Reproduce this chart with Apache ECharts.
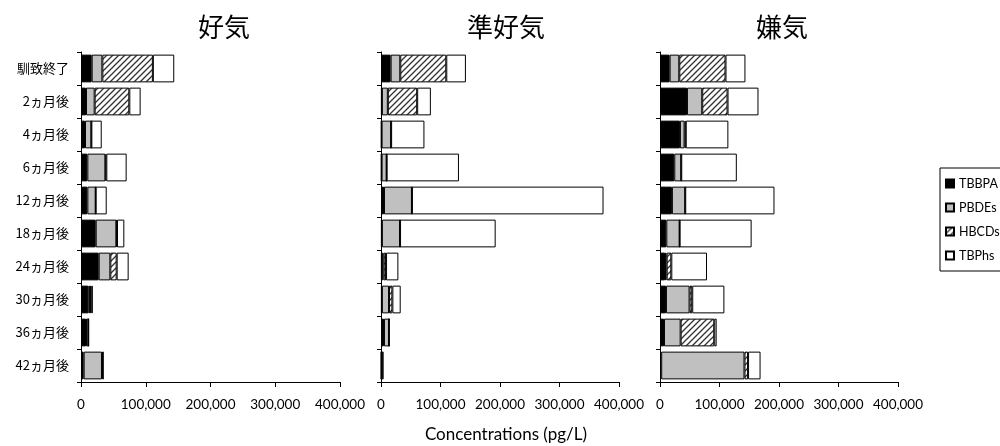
<!DOCTYPE html>
<html><head><meta charset="utf-8">
<script src="https://cdn.jsdelivr.net/npm/echarts@6/dist/echarts.min.js"></script>
<style>html,body{margin:0;padding:0;background:#fff}#c{width:1000px;height:446px}</style>
</head><body><div id="c"></div>
<script>
const categories = ['馴致終了','2ヵ月後','4ヵ月後','6ヵ月後','12ヵ月後','18ヵ月後','24ヵ月後','30ヵ月後','36ヵ月後','42ヵ月後'];
const panelTitles = ['好気','準好気','嫌気'];
const seriesNames = ['TBBPA','PBDEs','HBCDs','TBPhs'];
const xTicks = [0,100000,200000,300000,400000];

// 好気
const aerobic_TBBPA = [16500, 7700, 6200, 9800, 9800, 22700, 27300, 11300, 7700, 4100];
const aerobic_PBDEs = [16500, 13400, 9800, 27800, 12900, 31900, 18000, 2500, 3600, 28300];
const aerobic_HBCDs = [78000, 53500, 0, 1500, 0, 1000, 9800, 2000, 0, 1500];
const aerobic_TBPhs = [33000, 17500, 16000, 31400, 17000, 11300, 18500, 2500, 1000, 500];
// 準好気
const semi_TBBPA = [16200, 1500, 1000, 1000, 5000, 1500, 1500, 1500, 5000, 500];
const semi_PBDEs = [16200, 10000, 16000, 8500, 47000, 30500, 3000, 12000, 8400, 1000];
const semi_HBCDs = [77300, 49300, 0, 0, 0, 0, 4000, 5600, 0, 0];
const semi_TBPhs = [33000, 23000, 56000, 121500, 322000, 160700, 20700, 14000, 500, 3000];
// 嫌気
const anaerobic_TBBPA = [16200, 45300, 33500, 24000, 20000, 10600, 8400, 10000, 6700, 2000];
const anaerobic_PBDEs = [16200, 25700, 7800, 11700, 22400, 22400, 2800, 39700, 28000, 140000];
const anaerobic_HBCDs = [77700, 42500, 2000, 0, 0, 0, 7800, 4500, 56500, 6000];
const anaerobic_TBPhs = [33500, 52000, 71600, 93400, 150000, 121000, 60000, 54000, 4000, 21000];

const panels = [
  [aerobic_TBBPA, aerobic_PBDEs, aerobic_HBCDs, aerobic_TBPhs],
  [semi_TBBPA, semi_PBDEs, semi_HBCDs, semi_TBPhs],
  [anaerobic_TBBPA, anaerobic_PBDEs, anaerobic_HBCDs, anaerobic_TBPhs]
];

// hatch pattern
const pc = document.createElement('canvas');
pc.width = 6; pc.height = 6;
const g = pc.getContext('2d');
g.fillStyle = '#fff'; g.fillRect(0,0,6,6);
g.strokeStyle = '#333'; g.lineWidth = 1.3;
g.beginPath();
g.moveTo(0,6); g.lineTo(6,0);
g.moveTo(-3,3); g.lineTo(3,-3);
g.moveTo(3,9); g.lineTo(9,3);
g.stroke();
const hatch = {image: pc, repeat: 'repeat'};
const fills = ['#000000', '#c0c0c0', hatch, '#ffffff'];

const grids = [
  {left: 81, width: 259, top: 52, height: 330},
  {left: 381, width: 238, top: 52, height: 330},
  {left: 660, width: 238, top: 52, height: 330}
];
const titleCenters = [219, 501, 777];
const latin = 'Lato, "Open Sans", sans-serif';
const jp = '"Noto Sans CJK JP", sans-serif';

const xAxes = grids.map((gr, i) => ({
  type: 'value', gridIndex: i, min: 0, max: 400000, interval: 100000,
  axisLine: {show: true, lineStyle: {color: '#000'}},
  axisTick: {show: true, length: 5, lineStyle: {color: '#000'}},
  splitLine: {show: false},
  axisLabel: {color: '#000', fontSize: 13.5, fontFamily: latin, margin: 16,
    formatter: v => v.toLocaleString('en-US')}
}));
const yAxes = grids.map((gr, i) => ({
  type: 'category', gridIndex: i, data: categories, inverse: true,
  axisLine: {show: true, lineStyle: {color: '#000'}},
  axisTick: {show: true, length: 4, lineStyle: {color: '#000'}},
  axisLabel: {show: i === 0, color: '#000', fontSize: 13, fontFamily: jp, margin: 12}
}));

const series = [];
panels.forEach((arrs, p) => {
  arrs.forEach((data, k) => {
    series.push({
      name: seriesNames[k], type: 'bar', stack: 'p' + p,
      xAxisIndex: p, yAxisIndex: p, data: data,
      barCategoryGap: '16%',
      itemStyle: {color: fills[k], borderColor: '#000', borderWidth: 1},
      emphasis: {disabled: true}
    });
  });
});

const titles = panelTitles.map((t, i) => ({
  text: t, left: titleCenters[i], top: 9, textAlign: 'center',
  textStyle: {fontSize: 26, fontWeight: 'normal', color: '#000', fontFamily: jp}
}));
titles.push({text: 'Concentrations (pg/L)', left: 501, top: 421, textAlign: 'center',
  textStyle: {fontSize: 17, fontWeight: 'normal', color: '#000', fontFamily: latin}});

const chart = echarts.init(document.getElementById('c'), null, {renderer: 'canvas'});
chart.setOption({
  animation: false,
  backgroundColor: '#fff',
  title: titles,
  grid: grids,
  xAxis: xAxes,
  yAxis: yAxes,
  legend: {
    data: seriesNames, orient: 'vertical', left: 940, top: 168,
    icon: 'rect', itemWidth: 8, itemHeight: 8, itemGap: 9, itemTextGap: 4,
    padding: [8, 2, 8, 5],
    borderColor: '#000', borderWidth: 1,
    textStyle: {color: '#000', fontSize: 12.5, fontFamily: latin, lineHeight: 15}
  },
  series: series
});
</script></body></html>
